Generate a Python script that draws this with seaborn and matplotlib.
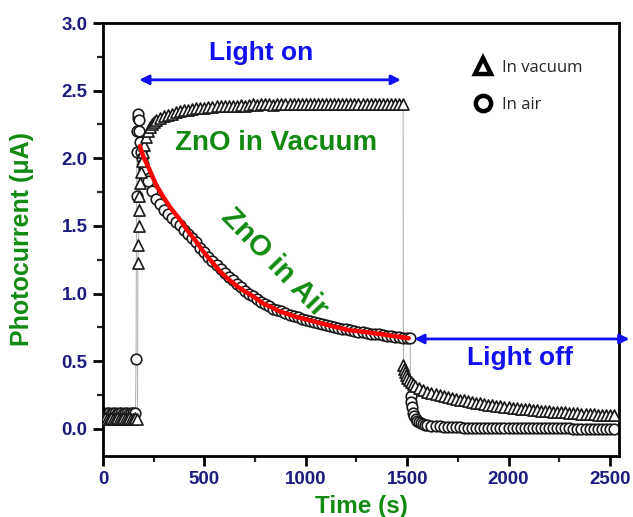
"""Photocurrent response of ZnO under light on/off in vacuum and in air."""

import matplotlib

matplotlib.use("Agg")
import matplotlib.pyplot as plt
import pandas as pd
import seaborn as sns
from matplotlib.lines import Line2D
from matplotlib.ticker import FormatStrFormatter, MultipleLocator

# ---- data ---------------------------------------------------------------
# vacuum trace (triangles)
vac_time = (
    list(range(0, 180, 10))
    + [172, 174, 176, 178, 180, 183, 186, 190, 195, 200, 210, 220, 230, 240, 250, 260]
    + list(range(280, 620, 20))
    + list(range(620, 1500, 20))
    + [1482, 1486, 1490, 1495, 1500, 1510, 1520, 1530, 1540, 1560, 1580]
    + list(range(1600, 2540, 20))
)
vac_current = (
    [0.07, 0.08, 0.07, 0.07, 0.08, 0.07, 0.07, 0.08, 0.07, 0.07, 0.08, 0.07, 0.07, 0.08, 0.07, 0.07, 0.08, 0.07]
    + [1.23, 1.36, 1.50, 1.62, 1.72, 1.82, 1.90, 1.98, 2.05, 2.10, 2.16, 2.20, 2.23, 2.25, 2.27, 2.28]
    + [2.30, 2.31, 2.32, 2.33, 2.34, 2.35, 2.355, 2.36, 2.365, 2.37, 2.37, 2.375, 2.38, 2.38, 2.385, 2.385, 2.39]
    + [2.39, 2.39, 2.39, 2.395, 2.39, 2.395, 2.40, 2.395, 2.40, 2.40,
       2.40, 2.395, 2.40, 2.40, 2.40, 2.405, 2.40, 2.40, 2.40, 2.40,
       2.40, 2.405, 2.40, 2.40, 2.40, 2.40, 2.405, 2.40, 2.40, 2.40,
       2.40, 2.40, 2.405, 2.40, 2.40, 2.40, 2.40, 2.405, 2.40, 2.40,
       2.40, 2.40, 2.40, 2.40]
    + [0.47, 0.44, 0.42, 0.40, 0.38, 0.36, 0.345, 0.33, 0.32, 0.30, 0.285]
    + [0.270, 0.262, 0.255, 0.248, 0.241, 0.235, 0.229, 0.223, 0.217, 0.211,
       0.205, 0.200, 0.195, 0.190, 0.185, 0.180, 0.176, 0.172, 0.168, 0.164,
       0.160, 0.157, 0.154, 0.151, 0.148, 0.145, 0.142, 0.139, 0.136, 0.133,
       0.130, 0.128, 0.126, 0.124, 0.122, 0.120, 0.118, 0.116, 0.114, 0.112,
       0.110, 0.108, 0.106, 0.104, 0.102, 0.100, 0.100]
)

# air trace (circles)
air_time = (
    list(range(0, 170, 10))
    + [163, 166, 168, 170, 172, 174, 177, 180, 183, 186, 190, 195]
    + list(range(200, 1500, 20))
    + [1500, 1515]
    + [1518, 1521, 1525, 1530, 1536, 1543, 1550, 1560, 1570, 1580, 1590]
    + list(range(1600, 2540, 20))
)
air_current = (
    [0.12, 0.11, 0.12, 0.12, 0.11, 0.12, 0.12, 0.11, 0.12, 0.12, 0.11, 0.12, 0.12, 0.11, 0.12, 0.12, 0.12]
    + [0.52, 1.72, 2.05, 2.20, 2.30, 2.33, 2.28, 2.20, 2.12, 2.05, 2.00, 1.96]
    + [1.92, 1.83, 1.76, 1.70, 1.66, 1.62, 1.59, 1.56, 1.53, 1.51,
       1.47, 1.44, 1.41, 1.38, 1.34, 1.31, 1.27, 1.24, 1.21, 1.18,
       1.15, 1.12, 1.10, 1.07, 1.05, 1.02, 1.00, 0.98, 0.96, 0.94,
       0.92, 0.91, 0.89, 0.88, 0.87, 0.86, 0.845, 0.835, 0.825, 0.815,
       0.805, 0.795, 0.79, 0.78, 0.775, 0.765, 0.76, 0.75, 0.745, 0.74,
       0.735, 0.73, 0.725, 0.72, 0.715, 0.71, 0.705, 0.70, 0.70, 0.695,
       0.69, 0.685, 0.68, 0.68, 0.675]
    + [0.67, 0.67]
    + [0.24, 0.20, 0.16, 0.12, 0.095, 0.075, 0.06, 0.05, 0.042, 0.036, 0.032]
    + [0.028, 0.025, 0.022, 0.020, 0.018, 0.016, 0.014, 0.012, 0.011, 0.010,
       0.009, 0.009, 0.008, 0.008, 0.008, 0.007, 0.007, 0.007, 0.006, 0.006,
       0.006, 0.006, 0.005, 0.005, 0.005, 0.005, 0.005, 0.005, 0.004, 0.004,
       0.004, 0.004, 0.004, 0.004, 0.004, 0.004, 0.003, 0.003, 0.003, 0.003,
       0.003, 0.003, 0.003, 0.003, 0.003, 0.003, 0.003]
)

# red fit through the air decay
fit_time = [182, 200, 231, 260, 295, 335, 378, 420, 462, 500, 540, 580, 624, 665,
            707, 750, 786, 830, 869, 950, 1051, 1130, 1213, 1300, 1375, 1440, 1508]
fit_current = [2.09, 2.01, 1.91, 1.81, 1.72, 1.63, 1.55, 1.46, 1.38, 1.30, 1.23, 1.16, 1.10, 1.05,
               1.01, 0.97, 0.93, 0.90, 0.87, 0.83, 0.79, 0.76, 0.73, 0.715, 0.70, 0.685, 0.67]

legend_labels = ["In vacuum", "In air"]

GREEN = "#128a12"
NAVY = "#1c1c7e"
BLUE = "#1010f0"

sns.set_theme(style="ticks")
plt.rcParams["font.family"] = ["Liberation Sans", "DejaVu Sans"]

vac = pd.DataFrame({"time": vac_time, "current": vac_current})
air = pd.DataFrame({"time": air_time, "current": air_current})
fit = pd.DataFrame({"time": fit_time, "current": fit_current})

fig = plt.figure(figsize=(6.33, 5.17), dpi=100)
ax = fig.add_axes([103 / 633, 61 / 517, 516 / 633, 433 / 517])

# thin grey connecting lines
for frame in (vac, air):
    sns.lineplot(data=frame, x="time", y="current", ax=ax, color="#b5b5b5",
                 lw=0.8, estimator=None, sort=False, zorder=1)

sns.scatterplot(data=air, x="time", y="current", ax=ax, marker="o", s=58,
                facecolor="white", edgecolor="#1a1a1a", linewidth=1.2, zorder=2)
sns.scatterplot(data=vac, x="time", y="current", ax=ax, marker="^", s=64,
                facecolor="white", edgecolor="#1a1a1a", linewidth=1.2, zorder=3)
sns.lineplot(data=fit, x="time", y="current", ax=ax, color="red", lw=3.2,
             estimator=None, sort=False, zorder=4)

ax.set_xlim(0, 2545)
ax.set_ylim(-0.2, 3.0)
ax.xaxis.set_major_locator(MultipleLocator(500))
ax.xaxis.set_minor_locator(MultipleLocator(250))
ax.yaxis.set_major_locator(MultipleLocator(0.5))
ax.yaxis.set_minor_locator(MultipleLocator(0.25))
ax.yaxis.set_major_formatter(FormatStrFormatter("%.1f"))
ax.tick_params(which="major", direction="out", length=7, width=2, colors="black",
               labelsize=13.5, labelcolor=NAVY, pad=4)
ax.tick_params(which="minor", direction="out", length=4, width=1.6)
ax.tick_params(top=False, right=False, which="both")
for lab in ax.get_xticklabels() + ax.get_yticklabels():
    lab.set_fontweight("bold")
for spine in ax.spines.values():
    spine.set_linewidth(2)
    spine.set_color("black")

ax.set_xlabel("Time (s)", fontsize=17.5, fontweight="bold", color=GREEN, labelpad=5)
ax.set_ylabel("Photocurrent (\u03bcA)", fontsize=18, fontweight="bold", color=GREEN, labelpad=20)

# annotations
ax.annotate("", xy=(1483, 2.58), xytext=(165, 2.58),
            arrowprops=dict(arrowstyle="<|-|>", color=BLUE, lw=2, mutation_scale=14))
ax.text(782, 2.78, "Light on", color=BLUE, fontsize=19, fontweight="bold",
        ha="center", va="center")
ax.annotate("", xy=(2610, 0.665), xytext=(1522, 0.665), annotation_clip=False,
            arrowprops=dict(arrowstyle="<|-|>", color=BLUE, lw=2, mutation_scale=14))
ax.text(2057, 0.525, "Light off", color=BLUE, fontsize=19, fontweight="bold",
        ha="center", va="center")
ax.text(856, 2.11, "ZnO in Vacuum", color=GREEN, fontsize=20, fontweight="bold",
        ha="center", va="center", zorder=5)
ax.text(846, 1.23, "ZnO in Air", color=GREEN, fontsize=21, fontweight="bold",
        ha="center", va="center", rotation=-46, rotation_mode="anchor", zorder=5)

handles = [
    Line2D([], [], ls="none", marker="^", markersize=12, markerfacecolor="white",
           markeredgecolor="black", markeredgewidth=3.2),
    Line2D([], [], ls="none", marker="o", markersize=11, markerfacecolor="white",
           markeredgecolor="black", markeredgewidth=3.2),
]
ax.legend(handles, legend_labels, loc="upper left", bbox_to_anchor=(0.718, 0.915),
          frameon=False, handlelength=1.2, handletextpad=0.5,
          labelspacing=1.25, borderaxespad=0, borderpad=0,
          prop={"family": ["Open Sans", "DejaVu Sans"], "size": 12})

fig.savefig("out.png", dpi=100)
